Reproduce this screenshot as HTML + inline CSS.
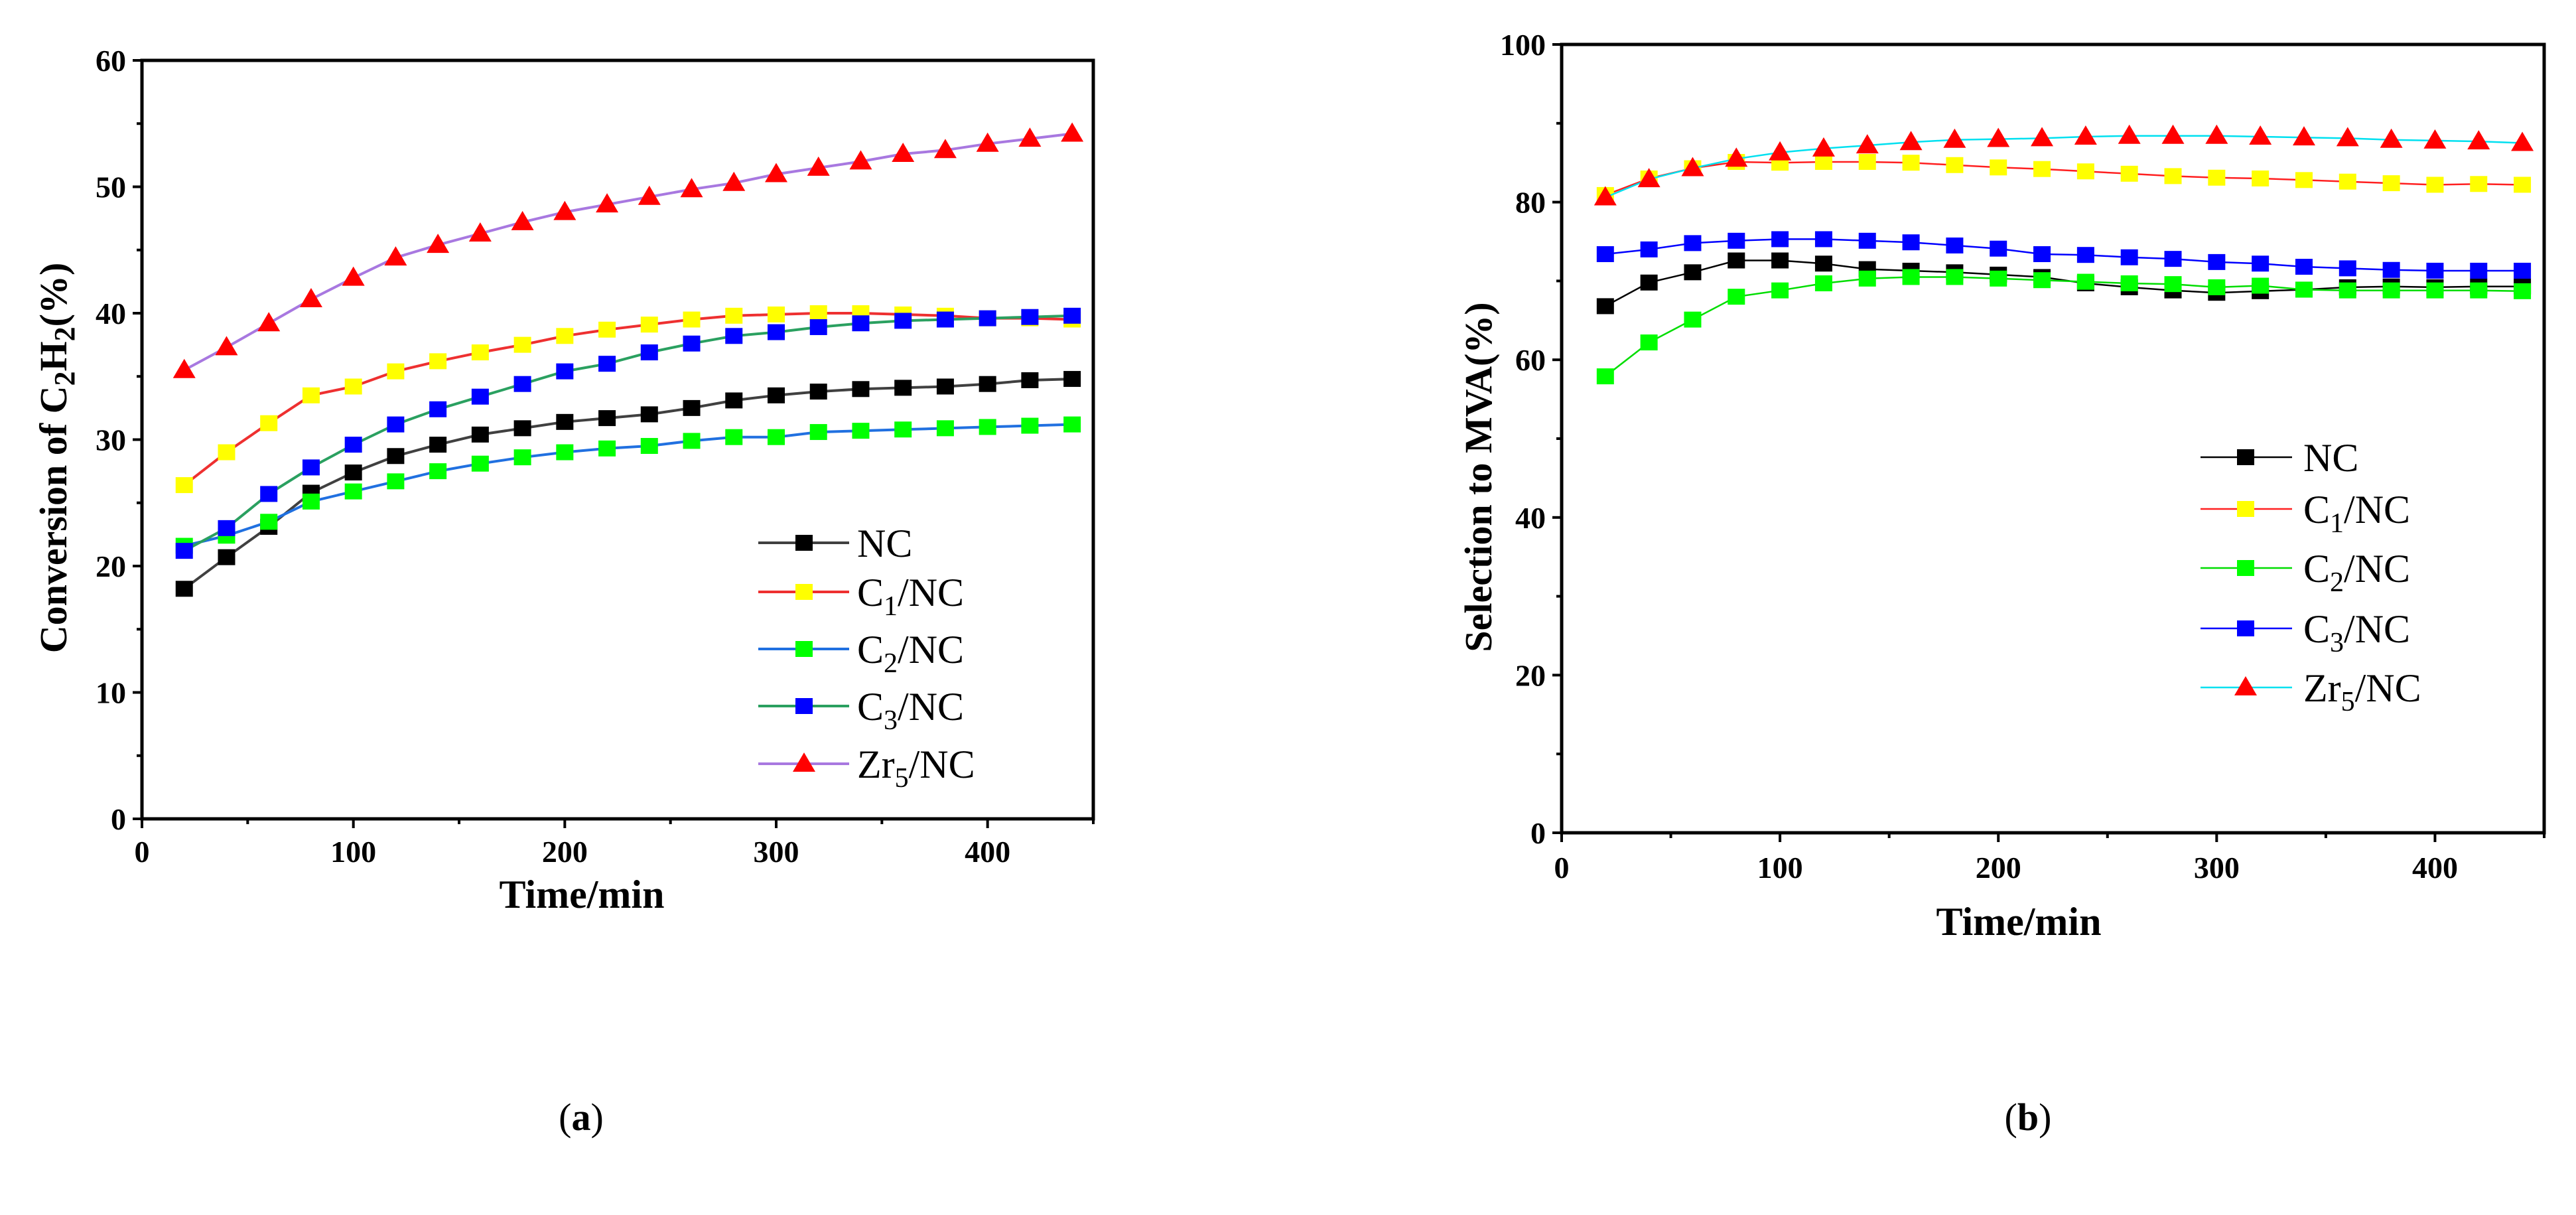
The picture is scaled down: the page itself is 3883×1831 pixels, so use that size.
<!DOCTYPE html>
<html><head><meta charset="utf-8"><style>
body{margin:0;background:#fff}
svg text{font-family:"Liberation Serif",serif}
</style></head><body>
<svg id="fig" width="3883" height="1826" viewBox="0 0 3883 1826" xmlns="http://www.w3.org/2000/svg">
<rect width="3883" height="1826" fill="#fff"/>
<g id="pa"></g>
<g id="pb"></g>
<text x="876" y="1703" font-size="58" text-anchor="middle">(<tspan font-weight="bold">a</tspan>)</text>
<text x="3057" y="1703" font-size="58" text-anchor="middle">(<tspan font-weight="bold">b</tspan>)</text>
</svg>
<script>
const times=[20,40,60,80,100,120,140,160,180,200,220,240,260,280,300,320,340,360,380,400,420,440];
const seriesNames=["NC","C1/NC","C2/NC","C3/NC","Zr5/NC"];
const aNC=[18.2,20.7,23.1,25.8,27.4,28.7,29.6,30.4,30.9,31.4,31.7,32.0,32.5,33.1,33.5,33.8,34.0,34.1,34.2,34.4,34.7,34.8];
const aC1=[26.4,29.0,31.3,33.5,34.2,35.4,36.2,36.9,37.5,38.2,38.7,39.1,39.5,39.8,39.9,40.0,40.0,39.9,39.8,39.6,39.6,39.5];
const aC2=[21.6,22.4,23.5,25.1,25.9,26.7,27.5,28.1,28.6,29.0,29.3,29.5,29.9,30.2,30.2,30.6,30.7,30.8,30.9,31.0,31.1,31.2];
const aC3=[21.2,23.0,25.7,27.8,29.6,31.2,32.4,33.4,34.4,35.4,36.0,36.9,37.6,38.2,38.5,38.9,39.2,39.4,39.5,39.6,39.7,39.8];
const aZr=[35.5,37.3,39.2,41.1,42.8,44.4,45.4,46.3,47.2,48.0,48.6,49.2,49.8,50.3,51.0,51.5,52.0,52.6,52.9,53.4,53.8,54.2];
const bNC=[66.8,69.8,71.1,72.6,72.6,72.2,71.5,71.3,71.1,70.8,70.5,69.7,69.2,68.8,68.5,68.7,68.9,69.2,69.3,69.2,69.3,69.3];
const bC1=[80.9,83.0,84.3,85.1,85.0,85.1,85.1,85.0,84.7,84.4,84.2,83.9,83.6,83.3,83.1,83.0,82.8,82.6,82.4,82.2,82.3,82.2];
const bC2=[57.9,62.2,65.1,68.0,68.8,69.7,70.3,70.5,70.5,70.3,70.1,69.9,69.7,69.6,69.2,69.4,68.9,68.8,68.8,68.8,68.8,68.7];
const bC3=[73.4,74.0,74.8,75.1,75.3,75.3,75.1,74.9,74.5,74.1,73.4,73.3,73.0,72.8,72.4,72.2,71.8,71.6,71.4,71.3,71.3,71.3];
const bZr=[80.6,82.9,84.3,85.5,86.3,86.8,87.2,87.6,87.9,88.0,88.1,88.3,88.4,88.4,88.4,88.3,88.2,88.1,87.9,87.8,87.7,87.5];
const xTicksA=[0,100,200,300,400];
const yTicksA=[0,10,20,30,40,50,60];
const yTicksB=[0,20,40,60,80,100];
const NS="http://www.w3.org/2000/svg";
function mk(p,t,a){const e=document.createElementNS(NS,t);for(const k in a)e.setAttribute(k,a[k]);p.appendChild(e);return e;}
const markerFill=["#000","#ffff00","#00ff00","#0000ff","#ff0000"];
function marker(g,type,cx,cy,fill){
  let m;
  if(type==="tri"){m=mk(g,"polygon",{points:`${cx},${cy-17} ${cx-17},${cy+12} ${cx+17},${cy+12}`,fill:fill});}
  else{m=mk(g,"rect",{x:cx-13,y:cy-12,width:26,height:24,fill:fill});}
  return m;
}
function chart(gid,cfg){
  const g=document.getElementById(gid);
  const X=v=>cfg.l+(v-0)/(450)*(cfg.r-cfg.l);
  const Y=v=>cfg.b-(v/cfg.ymax)*(cfg.b-cfg.t);
  const fr=mk(g,"rect",{x:cfg.l,y:cfg.t,width:cfg.r-cfg.l,height:cfg.b-cfg.t,fill:"none",stroke:"#000","stroke-width":5});
  
  
  for(let v=0;v<=450;v+=50){
    const maj=v%100===0;
    mk(g,"line",{x1:X(v),x2:X(v),y1:cfg.b,y2:cfg.b+(maj?14:8),stroke:"#000","stroke-width":4});
  }
  xTicksA.forEach(v=>{
    const t=mk(g,"text",{x:X(v),y:cfg.xly,"font-size":46,"font-weight":"bold","text-anchor":"middle"});
    t.textContent=v;
    
    
  });
  const yt=cfg.yticks, step=yt[1]-yt[0];
  for(let v=0;v<=cfg.ymax;v+=step/2){
    const maj=Math.abs(v/step-Math.round(v/step))<1e-6;
    mk(g,"line",{x1:cfg.l-(maj?14:8),x2:cfg.l,y1:Y(v),y2:Y(v),stroke:"#000","stroke-width":4});
  }
  yt.forEach(v=>{
    const t=mk(g,"text",{x:cfg.l-24,y:Y(v)+16,"font-size":46,"font-weight":"bold","text-anchor":"end"});
    t.textContent=v;
    
    
  });
  const xt=mk(g,"text",{x:cfg.xtx,y:cfg.xty,"font-size":60,"font-weight":"bold","text-anchor":"middle"});
  xt.textContent="Time/min";
  
  
  const ytl=mk(g,"text",{x:0,y:0,"font-size":58,"font-weight":"bold","text-anchor":"middle",transform:`translate(${cfg.ytx},${cfg.yty}) rotate(-90)`});
  ytl.innerHTML=cfg.ytitle;
  
  
  cfg.data.forEach((d,i)=>{
    const sg=mk(g,"g",{});
    
    
    const pts=times.map((t,k)=>X(t).toFixed(1)+","+Y(d[k]).toFixed(1)).join(" ");
    mk(sg,"polyline",{points:pts,fill:"none",stroke:cfg.lineCol[i],"stroke-width":cfg.lw});
    times.forEach((t,k)=>{
      const m=marker(sg,i===4?"tri":"sq",X(t),Y(d[k]),markerFill[i]);
      
      
    });
  });
  const labels=["NC",'C<tspan font-size="42" dy="14">1</tspan><tspan dy="-14">/NC</tspan>','C<tspan font-size="42" dy="14">2</tspan><tspan dy="-14">/NC</tspan>','C<tspan font-size="42" dy="14">3</tspan><tspan dy="-14">/NC</tspan>','Zr<tspan font-size="42" dy="14">5</tspan><tspan dy="-14">/NC</tspan>'];
  cfg.legY.forEach((y,i)=>{
    const lg=mk(g,"g",{});
    
    
    mk(lg,"line",{x1:cfg.legL,x2:cfg.legR,y1:y,y2:y,stroke:cfg.lineCol[i],"stroke-width":cfg.lw});
    marker(lg,i===4?"tri":"sq",cfg.legM,y,markerFill[i]);
    const t=mk(lg,"text",{x:cfg.legT,y:y+21,"font-size":60});
    t.innerHTML=labels[i];
  });
}
chart("pa",{l:214,r:1648,t:91,b:1234,ymax:60,yticks:yTicksA,xly:1299,xtx:877,xty:1368,ytx:100,yty:690,
  ytitle:'Conversion of C<tspan font-size="44" dy="12">2</tspan><tspan dy="-12">H</tspan><tspan font-size="44" dy="12">2</tspan><tspan dy="-12">(%)</tspan>',
  data:[aNC,aC1,aC2,aC3,aZr],lineCol:["#404040","#ee3030","#2070e0","#2aa060","#a878e0"],lw:4,
  legY:[818,892,978,1064,1151],legL:1143,legR:1280,legM:1212,legT:1292});
chart("pb",{l:2354,r:3835,t:67,b:1255,ymax:100,yticks:yTicksB,xly:1323,xtx:3043,xty:1409,ytx:2248,yty:719,
  ytitle:'Selection to MVA(%)',
  data:[bNC,bC1,bC2,bC3,bZr],lineCol:["#000","#ff2020","#00dd00","#0000ff","#00e0f0"],lw:2.5,
  legY:[689,767,856,947,1036],legL:3317,legR:3455,legM:3385,legT:3472});
</script>
</body></html>
